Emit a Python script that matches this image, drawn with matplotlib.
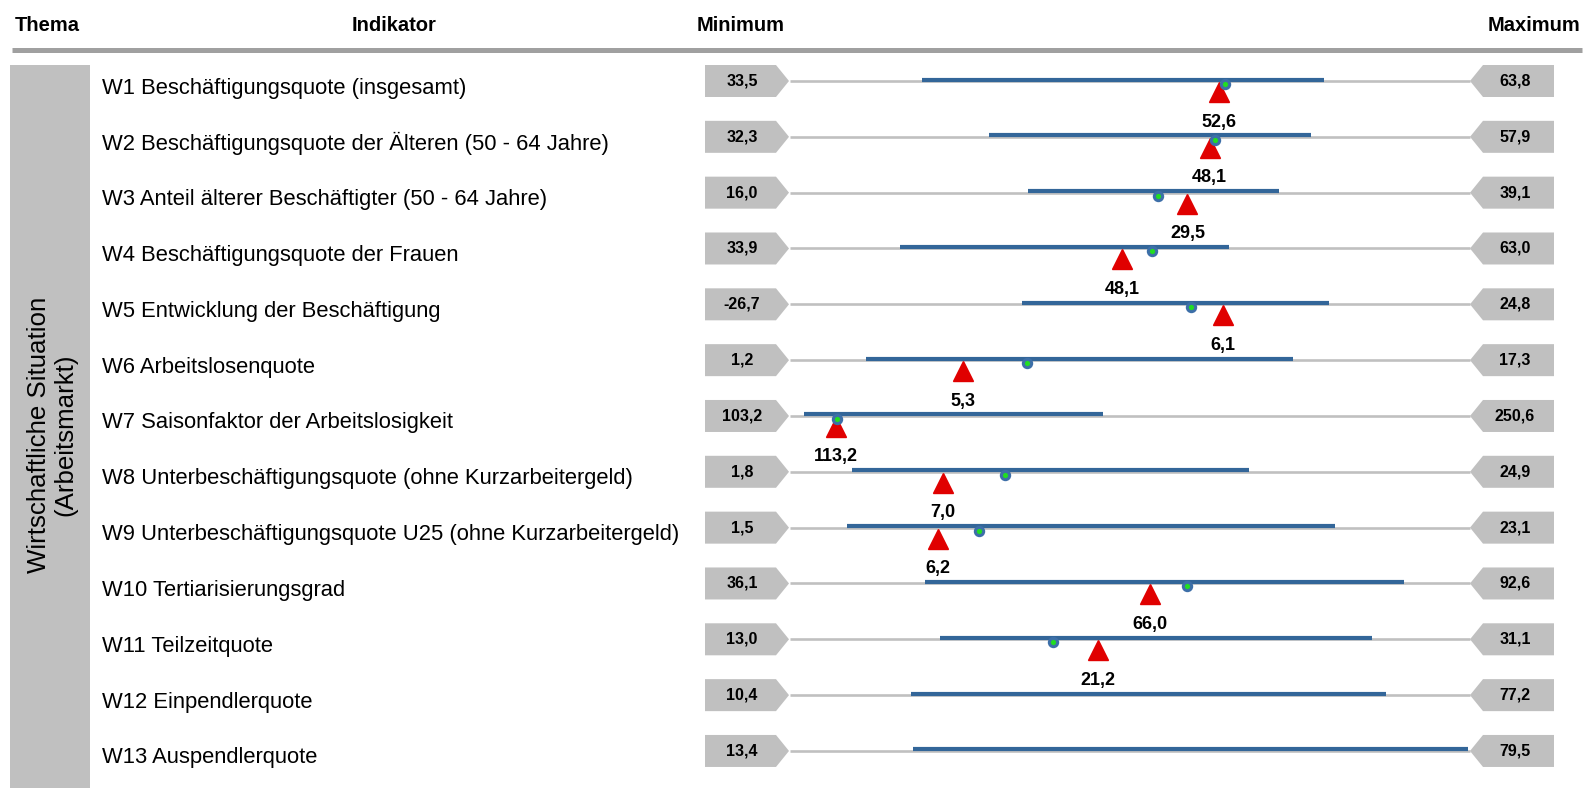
import matplotlib
matplotlib.use("Agg")
import matplotlib.pyplot as plt
from matplotlib.patches import Polygon, Rectangle

# Indikatoren Wirtschaftliche Situation (Arbeitsmarkt)
thema = "Wirtschaftliche Situation\n(Arbeitsmarkt)"
indikatoren = [
    "W1 Beschäftigungsquote (insgesamt)",
    "W2 Beschäftigungsquote der Älteren (50 - 64 Jahre)",
    "W3 Anteil älterer Beschäftigter (50 - 64 Jahre)",
    "W4 Beschäftigungsquote der Frauen",
    "W5 Entwicklung der Beschäftigung",
    "W6 Arbeitslosenquote",
    "W7 Saisonfaktor der Arbeitslosigkeit",
    "W8 Unterbeschäftigungsquote (ohne Kurzarbeitergeld)",
    "W9 Unterbeschäftigungsquote U25 (ohne Kurzarbeitergeld)",
    "W10 Tertiarisierungsgrad",
    "W11 Teilzeitquote",
    "W12 Einpendlerquote",
    "W13 Auspendlerquote",
]
minimum = [33.5, 32.3, 16.0, 33.9, -26.7, 1.2, 103.2, 1.8, 1.5, 36.1, 13.0, 10.4, 13.4]
maximum = [63.8, 57.9, 39.1, 63.0, 24.8, 17.3, 250.6, 24.9, 23.1, 92.6, 31.1, 77.2, 79.5]
band_von = [39.4, 39.8, 24.1, 38.6, -9.1, 3.0, 106.3, 3.9, 3.3, 47.3, 17.0, 22.3, 25.4]
band_bis = [57.3, 51.9, 32.6, 52.7, 14.1, 13.1, 171.1, 17.4, 18.8, 87.1, 28.5, 68.9, 79.3]
vergleich = [52.9, 48.3, 28.5, 49.4, 3.7, 6.8, 113.3, 9.1, 7.5, 69.1, 20.0, None, None]
wert = [52.6, 48.1, 29.5, 48.1, 6.1, 5.3, 113.2, 7.0, 6.2, 66.0, 21.2, None, None]

GRAU = "#c0c0c0"
BLAU = "#336699"
ROT = "#e00000"
SANS = ["Liberation Sans", "DejaVu Sans"]
NARROW = ["Liberation Sans Narrow", "Liberation Sans", "DejaVu Sans"]

def de(v):
    return f"{v:.1f}".replace(".", ",")

W, H = 1584, 788
fig = plt.figure(figsize=(W / 100, H / 100), dpi=100)
ax = fig.add_axes([0, 0, 1, 1])
ax.set_xlim(0, W)
ax.set_ylim(H, 0)
ax.axis("off")

# Kopfzeile
for txt, x in [("Thema", 47), ("Indikator", 394), ("Minimum", 741), ("Maximum", 1534)]:
    ax.text(x, 25, txt, ha="center", va="center", fontsize=14.5,
            fontweight="bold", family=SANS)
ax.plot([12, 1582], [50, 50], color="#a0a0a0", lw=3.6, solid_capstyle="butt")

# Themenblock links
ax.add_patch(Rectangle((10, 65), 80, H - 65, color=GRAU, lw=0))
ax.text(52, 435, thema, rotation=90, ha="center", va="center",
        fontsize=18.6, family=SANS, linespacing=1.1)

x0, x1 = 790, 1470   # Skalenbereich je Zeile
y_start, dy = 81, 55.83
for i, name in enumerate(indikatoren):
    yc = y_start + i * dy
    ax.text(102, yc + 7, name, ha="left", va="center", fontsize=15.8, family=SANS)

    # Minimum- und Maximum-Pfeile
    ax.add_patch(Polygon([(705, yc - 16), (776, yc - 16), (789, yc), (776, yc + 16),
                          (705, yc + 16)], closed=True, color=GRAU, lw=0))
    ax.text(742, yc, de(minimum[i]), ha="center", va="center", fontsize=11.5,
            fontweight="bold", family=SANS)
    ax.add_patch(Polygon([(1470, yc), (1483, yc - 16), (1554, yc - 16), (1554, yc + 16),
                          (1483, yc + 16)], closed=True, color=GRAU, lw=0))
    ax.text(1515, yc, de(maximum[i]), ha="center", va="center", fontsize=11.5,
            fontweight="bold", family=SANS)

    # eigene Skala von Minimum bis Maximum
    rax = fig.add_axes([x0 / W, 1 - (yc + 28) / H, (x1 - x0) / W, 56 / H])
    rax.set_xlim(minimum[i], maximum[i])
    rax.set_ylim(28, -28)
    rax.axis("off")
    rax.patch.set_alpha(0)
    rax.plot([minimum[i], maximum[i]], [0, 0], color=GRAU, lw=1.9,
             solid_capstyle="butt", clip_on=False, zorder=1)
    if wert[i] is not None:
        rax.plot(wert[i], 11, marker="^", ms=14, color=ROT, ls="none",
                 clip_on=False, zorder=2)
        rax.text(wert[i], 41, de(wert[i]), ha="center", va="center", fontsize=13,
                 fontweight="bold", family=NARROW, clip_on=False)
    rax.plot([band_von[i], band_bis[i]], [-1.5, -1.5], color=BLAU, lw=3,
             solid_capstyle="butt", clip_on=False, zorder=3)
    if vergleich[i] is not None:
        rax.plot(vergleich[i], 3, marker="o", ms=6, mfc="#22dd22", mec="#3d6fa8",
                 mew=2.2, ls="none", clip_on=False, zorder=4)

fig.savefig("out.png", dpi=100)
